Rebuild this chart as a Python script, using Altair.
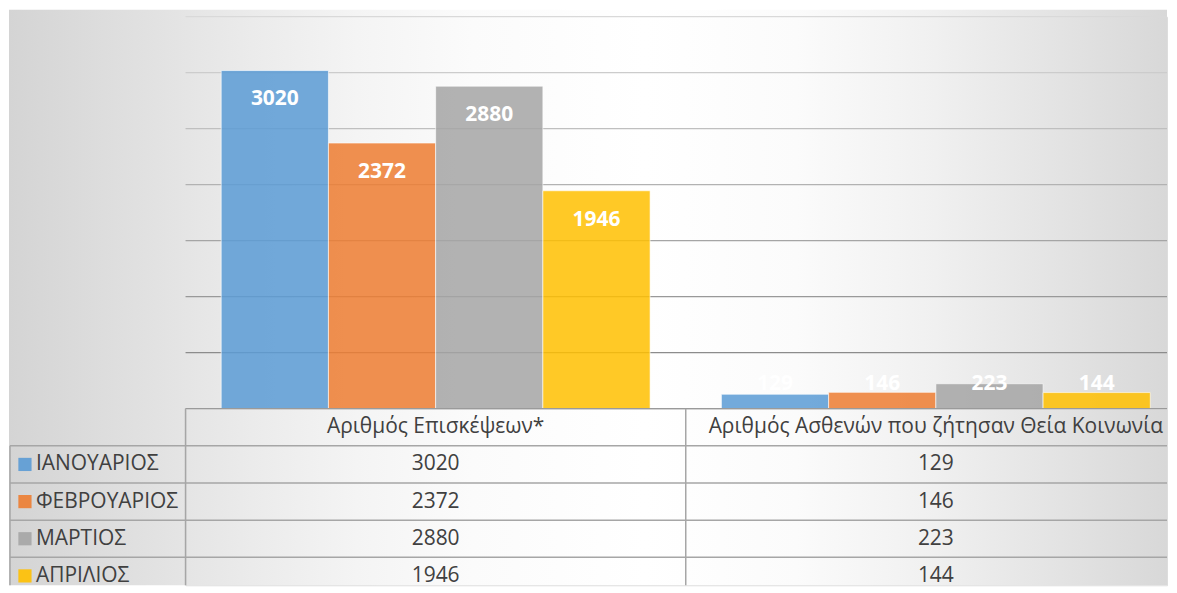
import altair as alt
import pandas as pd

# ---- data ----
categories = ["Αριθμός Επισκέψεων*", "Αριθμός Ασθενών που ζήτησαν Θεία Κοινωνία"]
months = ["ΙΑΝΟΥΑΡΙΟΣ", "ΦΕΒΡΟΥΑΡΙΟΣ", "ΜΑΡΤΙΟΣ", "ΑΠΡΙΛΙΟΣ"]
visits = [3020, 2372, 2880, 1946]
communion = [129, 146, 223, 144]
series_colors = ["#5B9BD5", "#ED7D31", "#A5A5A5", "#FFC000"]
grid_values = [500, 1000, 1500, 2000, 2500, 3000, 3500]

rows = []
for m, v1, v2 in zip(months, visits, communion):
    rows.append({"category": categories[0], "month": m, "value": v1})
    rows.append({"category": categories[1], "month": m, "value": v2})
df = pd.DataFrame(rows)
hdr = pd.DataFrame({"category": categories, "month": ["", ""]})
mdf = pd.DataFrame({"month": months})
cdf = pd.DataFrame({"category": categories})

# ---- layout ----
W = 984          # visible plot width
XR = 1003        # full category range (runs past the window edge)
H = 393
ROW = 37.25
TH_FULL = 5 * ROW
TH = 177         # visible part of the table
LEFT = 177
FONT = "Open Sans"
FS = 21
TXT = "#404040"
LINE = "#a6a6a6"

yscale = alt.Scale(domain=[0, 3500], nice=False, zero=True)
xcat = alt.X("category:N", sort=categories,
             scale=alt.Scale(domain=categories, range=[0, XR],
                             paddingInner=0.1426, paddingOuter=0.0713),
             axis=None)
xoff = alt.XOffset("month:N", sort=months,
                   scale=alt.Scale(domain=months, paddingInner=0, paddingOuter=0))
color = alt.Color("month:N", scale=alt.Scale(domain=months, range=series_colors), legend=None)

bg_fill = alt.LinearGradient(
    gradient="linear",
    stops=[
        alt.GradientStop(offset=0.0, color="#d4d4d4"),
        alt.GradientStop(offset=0.1, color="#dfdfdf"),
        alt.GradientStop(offset=0.2, color="#eaeaea"),
        alt.GradientStop(offset=0.3, color="#f4f4f4"),
        alt.GradientStop(offset=0.4, color="#fbfbfb"),
        alt.GradientStop(offset=0.55, color="#ffffff"),
        alt.GradientStop(offset=0.68, color="#fbfbfb"),
        alt.GradientStop(offset=0.8, color="#f0f0f0"),
        alt.GradientStop(offset=0.9, color="#e4e4e4"),
        alt.GradientStop(offset=1.0, color="#d8d8d8"),
    ],
    x1=0, x2=1, y1=0, y2=0,
)

bg = alt.Chart(pd.DataFrame({"bg": [1]})).mark_rect(fill=bg_fill).encode(
    x=alt.value(-LEFT), x2=alt.value(W), y=alt.value(-7), y2=alt.value(H + TH)
)

grid = alt.Chart(pd.DataFrame({"tick": grid_values})).mark_rule(strokeWidth=1.25).encode(
    y=alt.Y("tick:Q", scale=yscale, axis=None),
    x=alt.value(0), x2=alt.value(W),
    stroke=alt.Stroke("tick:Q", scale=alt.Scale(domain=[0, 3500], range=["#808080", "#d9d9d9"]),
                      legend=None),
)

bars = alt.Chart(df).mark_bar(fillOpacity=0.85, stroke="white", strokeOpacity=0.6, strokeWidth=1).encode(
    x=xcat, xOffset=xoff,
    y=alt.Y("value:Q", scale=yscale, axis=None),
    color=color,
)

baseline = alt.Chart(pd.DataFrame({"tick": [0]})).mark_rule(color="#7f7f7f", strokeWidth=1.5).encode(
    y=alt.Y("tick:Q", scale=yscale, axis=None),
    x=alt.value(0), x2=alt.value(W),
)

labels = alt.Chart(df).transform_calculate(
    ly="max(datum.value - 259, 223)"
).mark_text(color="white", fontWeight="bold", fontSize=FS, font=FONT, baseline="middle").encode(
    x=xcat, xOffset=xoff,
    y=alt.Y("ly:Q", scale=yscale, axis=None),
    text=alt.Text("value:Q", format="d"),
)

top = alt.layer(bg, grid, bars, baseline, labels).properties(width=W, height=H)

# ---- data table ----
ydom = [""] + months
yscale_t = alt.Scale(domain=ydom, range=[0, TH_FULL], paddingInner=0, paddingOuter=0)
xscale_t = alt.Scale(domain=categories, range=[0, XR], paddingInner=0, paddingOuter=0)


def ytab(band=0.5):
    return alt.Y("month:N", sort=ydom, scale=yscale_t, axis=None, bandPosition=band)


def xtab(band=0.5):
    return alt.X("category:N", sort=categories, scale=xscale_t, axis=None, bandPosition=band)


hlines = alt.Chart(mdf).mark_rule(color=LINE, strokeWidth=1.5).encode(
    y=ytab(0), x=alt.value(-176), x2=alt.value(W)
)

vlines = alt.Chart(cdf).mark_rule(color=LINE, strokeWidth=1.5).encode(
    x=xtab(0), y=alt.value(0), y2=alt.value(TH)
)

left_border = alt.Chart(pd.DataFrame({"b": [1]})).mark_rule(color=LINE, strokeWidth=1.5).encode(
    x=alt.value(-176), y=alt.value(ROW), y2=alt.value(TH)
)

keys = alt.Chart(mdf).mark_point(
    shape="square", filled=True, size=175, opacity=0.9
).encode(x=alt.value(-161), y=ytab(), color=color)

month_labels = alt.Chart(mdf).mark_text(
    fontSize=FS, font=FONT, color=TXT, baseline="middle", align="left"
).encode(x=alt.value(-150), y=ytab(), text="month:N")

vals = alt.Chart(df).mark_text(fontSize=FS, font=FONT, color=TXT, baseline="middle").encode(
    x=xtab(), y=ytab(), text=alt.Text("value:Q", format="d")
)

heads = alt.Chart(hdr).mark_text(fontSize=FS, font=FONT, color=TXT, baseline="middle").encode(
    x=xtab(), y=ytab(), text="category:N"
)

table = alt.layer(hlines, vlines, left_border, keys, month_labels, vals, heads).properties(
    width=W, height=TH
)

chart = alt.vconcat(top, table, spacing=0, bounds="flush").properties(
    padding=0
).configure_view(stroke=None).configure(font=FONT)

chart.save("out.html", embed_options={"renderer": "svg", "actions": False})
